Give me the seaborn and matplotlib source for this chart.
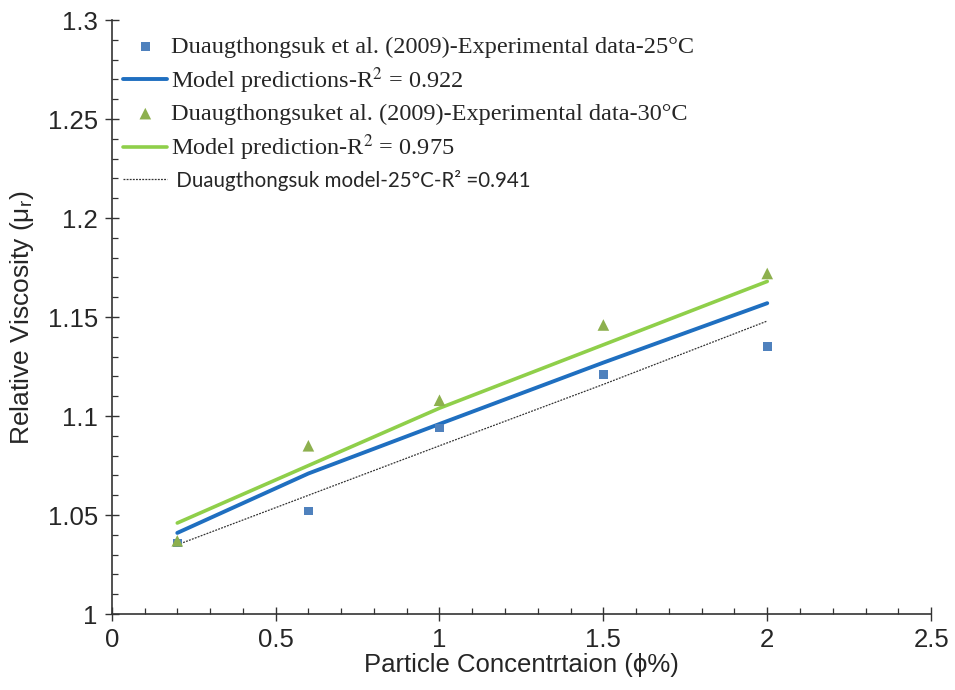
import numpy as np
import pandas as pd
import seaborn as sns
import matplotlib.pyplot as plt
from matplotlib.ticker import MultipleLocator

# particle concentration (vol %)
phi = [0.2, 0.6, 1.0, 1.5, 2.0]

# experimental data, Duangthongsuk et al. (2009)
exp_25 = [1.036, 1.052, 1.094, 1.121, 1.135]
exp_30 = [1.037, 1.085, 1.108, 1.146, 1.172]

# model curves
model_25 = [1.041, 1.071, 1.096, 1.127, 1.157]
model_30 = [1.046, 1.075, 1.104, 1.136, 1.168]
duang_model_25 = [1.035, 1.060, 1.085, 1.116, 1.148]

df = pd.DataFrame({"phi": phi, "exp25": exp_25, "exp30": exp_30,
                   "m25": model_25, "m30": model_30, "dm25": duang_model_25})

sns.set_theme(style="ticks")
plt.rcParams["font.family"] = ["Liberation Sans", "DejaVu Sans"]
plt.rcParams["mathtext.fontset"] = "stix"

fig = plt.figure(figsize=(9.55, 6.9), dpi=100)
ax = fig.add_axes([0.117, 0.110, 0.858, 0.861])

sns.scatterplot(data=df, x="phi", y="exp25", marker="s", s=38, color="#4F81BD",
                edgecolor="none", ax=ax, zorder=4,
                label="Duaugthongsuk et al. (2009)-Experimental data-25°C")
sns.lineplot(data=df, x="phi", y="m25", color="#1F6FC0", linewidth=2.8, ax=ax,
             label="Model predictions-R$^{2}$ = 0.922")
sns.scatterplot(data=df, x="phi", y="exp30", marker="^", s=70, color="#8DB04E",
                edgecolor="none", ax=ax, zorder=4,
                label="Duaugthongsuket al. (2009)-Experimental data-30°C")
sns.lineplot(data=df, x="phi", y="m30", color="#8FCF4A", linewidth=2.6, ax=ax,
             label="Model prediction-R$^{2}$ = 0.975")
sns.lineplot(data=df, x="phi", y="dm25", color="#333333", linewidth=0.9,
             linestyle=(0, (1.5, 1.0)), ax=ax,
             label=" Duaugthongsuk model-25°C-R² =0.941")

ax.set_xlim(0, 2.5)
ax.set_ylim(1.0, 1.3)
ax.xaxis.set_minor_locator(MultipleLocator(0.1))
ax.yaxis.set_minor_locator(MultipleLocator(0.01))
ax.set_xticks(np.arange(0, 2.51, 0.5))
ax.set_xticklabels(["0", "0.5", "1", "1.5", "2", "2.5"])
ax.set_yticks(np.arange(1.0, 1.301, 0.05))
ax.set_yticklabels(["1", "1.05", "1.1", "1.15", "1.2", "1.25", "1.3"])

ax.tick_params(axis="both", which="major", direction="inout", length=10,
               width=1, color="#333333", labelsize=18.5, pad=5)
ax.tick_params(axis="both", which="minor", direction="in", length=4,
               width=0.9, color="#333333")
for side in ["left", "bottom"]:
    ax.spines[side].set_color("#333333")
    ax.spines[side].set_linewidth(1.2)
sns.despine(ax=ax)

ax.set_xlabel("Particle Concentrtaion (ϕ%)", fontsize=18.5, labelpad=1)
ax.set_ylabel("Relative Viscosity (μ$_{\\mathregular{r}}$)", fontsize=19, labelpad=8)

leg = ax.legend(loc="upper left", bbox_to_anchor=(-0.005, 1.0), frameon=False,
                handlelength=1.8, handletextpad=0.15, labelspacing=0.3,
                borderaxespad=0.25, prop={"family": "Liberation Serif", "size": 17.5})
texts = leg.get_texts()
texts[-1].set_fontfamily(["Lato", "DejaVu Sans"])
texts[-1].set_fontsize(14.8)

fig.savefig("out.png", dpi=100)
